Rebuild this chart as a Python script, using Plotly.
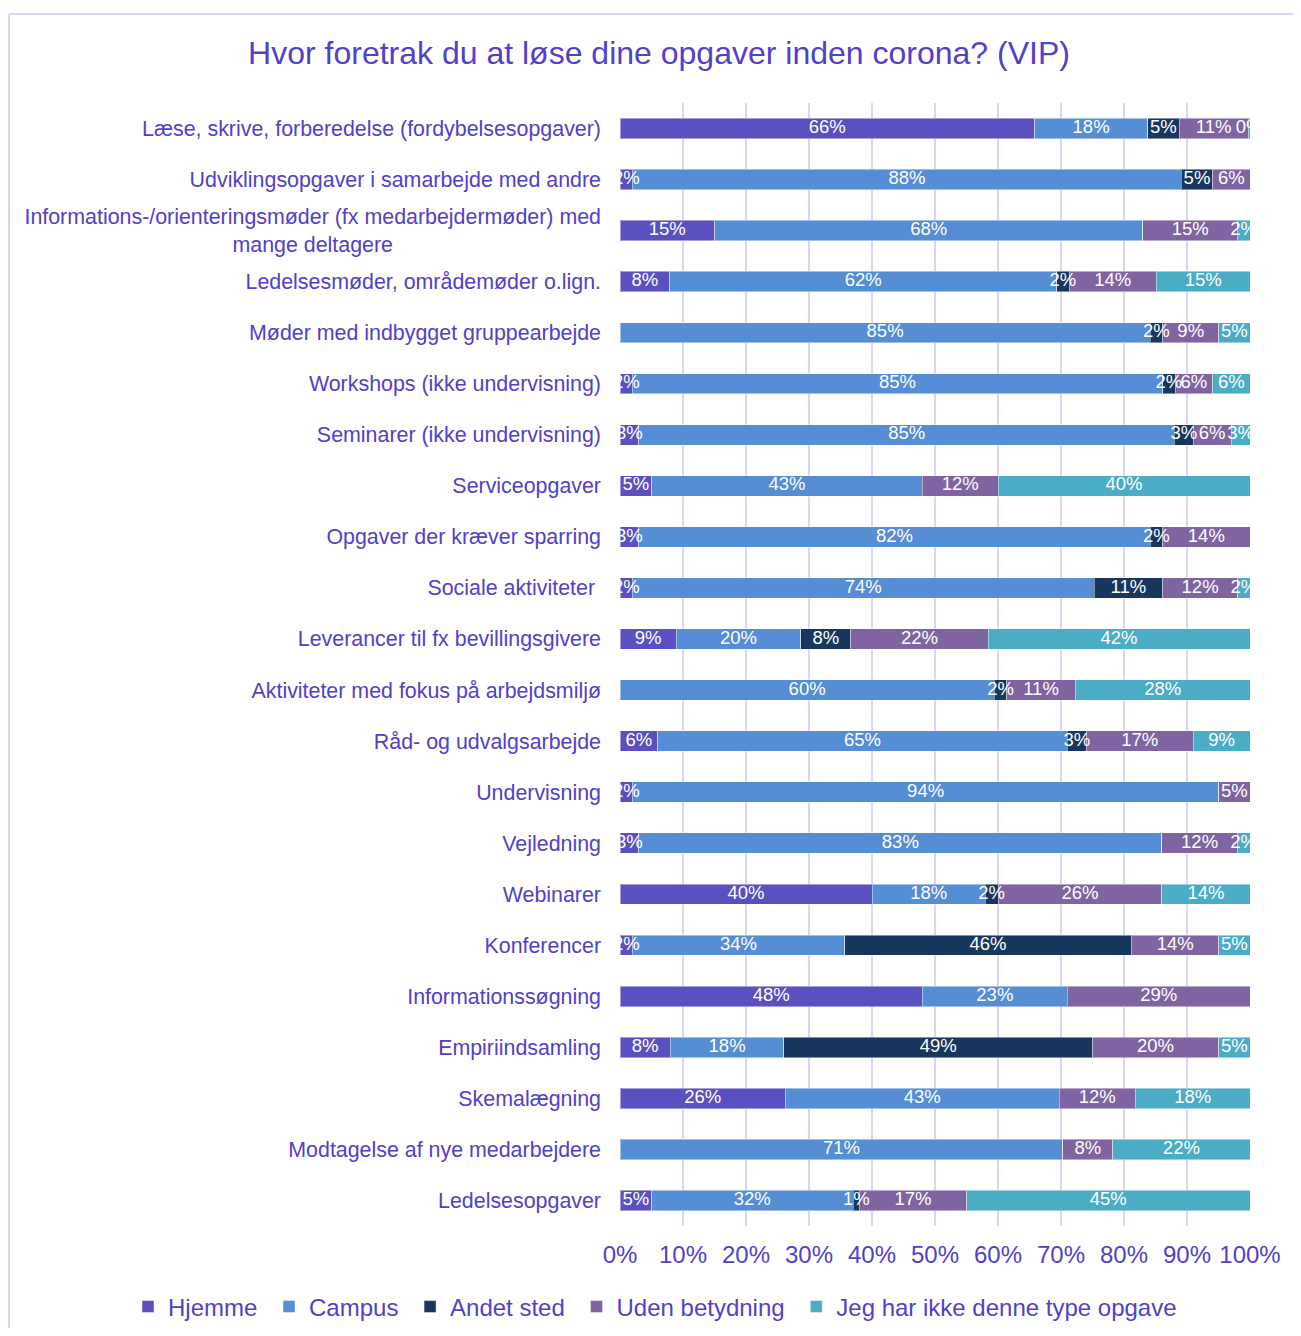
import plotly.graph_objects as go

categories = [
    "Læse, skrive, forberedelse (fordybelsesopgaver)",
    "Udviklingsopgaver i samarbejde med andre",
    "Informations-/orienteringsmøder (fx medarbejdermøder) med<br>mange deltagere" + "\u00a0" * 35,
    "Ledelsesmøder, områdemøder o.lign.",
    "Møder med indbygget gruppearbejde",
    "Workshops (ikke undervisning)",
    "Seminarer (ikke undervisning)",
    "Serviceopgaver",
    "Opgaver der kræver sparring",
    "Sociale aktiviteter ",
    "Leverancer til fx bevillingsgivere",
    "Aktiviteter med fokus på arbejdsmiljø",
    "Råd- og udvalgsarbejde",
    "Undervisning",
    "Vejledning",
    "Webinarer",
    "Konferencer",
    "Informationssøgning",
    "Empiriindsamling",
    "Skemalægning",
    "Modtagelse af nye medarbejdere",
    "Ledelsesopgaver",
]

series_names = ["Hjemme", "Campus", "Andet sted", "Uden betydning", "Jeg har ikke denne type opgave"]

hjemme = [66, 2, 15, 8, 0, 2, 3, 5, 3, 2, 9, 0, 6, 2, 3, 40, 2, 48, 8, 26, 0, 5]
campus = [18, 88, 68, 62, 85, 85, 85, 43, 82, 74, 20, 60, 65, 94, 83, 18, 34, 23, 18, 43, 71, 32]
andet = [5, 5, 0, 2, 2, 2, 3, 0, 2, 11, 8, 2, 3, 0, 0, 2, 46, 0, 49, 0, 0, 1]
uden = [11, 6, 15, 14, 9, 6, 6, 12, 14, 12, 22, 11, 17, 5, 12, 26, 14, 29, 20, 12, 8, 17]
ikke = [0.3, 0, 2, 15, 5, 6, 3, 40, 0, 2, 42, 28, 9, 0, 2, 14, 5, 0, 5, 18, 22, 45]

colors = ["#5B50BF", "#558ED5", "#17375E", "#8064A2", "#4BACC6"]
text_color = "#5141C8"
grid_color = "#DAD5F4"
font_family = "Liberation Sans, Arial, sans-serif"

all_series = [hjemme, campus, andet, uden, ikke]

fig = go.Figure()
for name, vals, col in zip(series_names, all_series, colors):
    fig.add_trace(go.Bar(
        y=categories, x=vals, name=name + "\u00a0", orientation="h",
        marker=dict(color=col, line=dict(color="rgba(255,255,255,0.45)", width=1)),
        hoverinfo="name+x",
    ))

# data labels drawn on top of every bar (centre of each normalised segment)
lab_x, lab_y, lab_t = [], [], []
for i, cat in enumerate(categories):
    total = sum(s[i] for s in all_series)
    cum = 0.0
    for s in all_series:
        v = s[i] / total * 100
        if s[i] > 0:
            lab_x.append(cum + v / 2)
            lab_y.append(cat)
            lab_t.append(f"{round(s[i]):.0f}%")
        cum += v
fig.add_trace(go.Scatter(
    x=lab_x, y=lab_y, text=lab_t, mode="text", showlegend=False, hoverinfo="skip",
    textfont=dict(color="white", size=18.5, family=font_family), cliponaxis=True,
))

# the page body has an 8px margin, so figure coords = reference coords - 8
OFF = 8
W, H = 1285, 1320
ml = 620 - OFF
plot_right = 1250 - OFF
mt = 103 - OFF
plot_bottom = 1226 - OFF
mr = W - plot_right
mb = H - plot_bottom
pw, ph = plot_right - ml, plot_bottom - mt

def px_x(p):
    return (p - OFF - ml) / pw

def px_y(p):
    return (plot_bottom - (p - OFF)) / ph

border = "#D9D4F3"
shapes = [
    dict(type="line", xref="paper", yref="paper", x0=px_x(9), x1=px_x(1305), y0=px_y(14), y1=px_y(14),
         line=dict(color=border, width=2)),
    dict(type="line", xref="paper", yref="paper", x0=px_x(9), x1=px_x(9), y0=px_y(14), y1=px_y(1340),
         line=dict(color=border, width=2)),
]

fig.update_layout(
    width=W, height=H,
    barmode="stack", barnorm="percent", bargap=0.6,
    margin=dict(l=ml, r=mr, t=mt, b=mb, autoexpand=False),
    plot_bgcolor="white", paper_bgcolor="white",
    font=dict(family=font_family, color=text_color),
    title=dict(text="Hvor foretrak du at løse dine opgaver inden corona? (VIP)",
               x=(659 - OFF) / W, xref="container", xanchor="center",
               y=1 - (53 - OFF) / H, yref="container", yanchor="middle",
               font=dict(size=32, color=text_color, family=font_family)),
    shapes=shapes,
    legend=dict(orientation="h", xref="paper", yref="paper",
                x=px_x(128), xanchor="left", y=px_y(1307), yanchor="middle",
                font=dict(size=24, color=text_color, family=font_family),
                itemwidth=30, tracegroupgap=0, traceorder="normal"),
    xaxis=dict(range=[0, 100], tickvals=[0, 10, 20, 30, 40, 50, 60, 70, 80, 90, 100],
               ticktext=["0%", "10%", "20%", "30%", "40%", "50%", "60%", "70%", "80%", "90%", "100%"],
               showgrid=True, gridcolor=grid_color, gridwidth=2, zeroline=False,
               showline=False, ticks="", ticklabelstandoff=12,
               tickfont=dict(size=24, color=text_color, family=font_family), fixedrange=True),
    yaxis=dict(autorange=False, range=[len(categories) - 0.5, -0.5],
               categoryorder="array", categoryarray=categories,
               showgrid=False, ticks="", showline=False,
               ticklabelstandoff=18,
               tickfont=dict(size=21.4, color=text_color, family=font_family), fixedrange=True),
)

fig.write_html("out.html")
